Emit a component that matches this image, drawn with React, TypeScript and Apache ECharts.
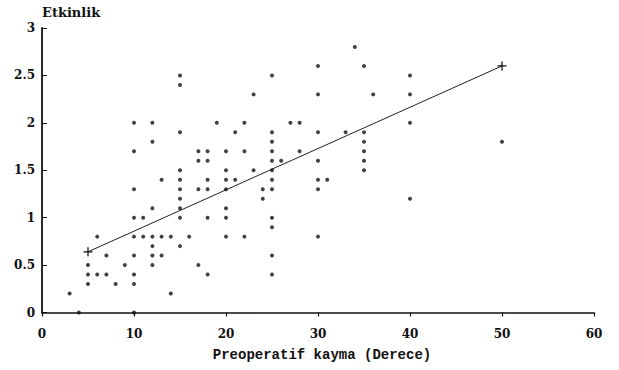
import React, { useEffect, useRef } from "react";
import * as echarts from "echarts";

// Preoperatif kayma (derece) values, grouped by column
const xValues: number[] = [
  3,
  4,
  5, 5, 5,
  6, 6,
  7, 7,
  8,
  9,
  10, 10, 10, 10, 10, 10, 10, 10, 10,
  11, 11,
  12, 12, 12, 12, 12, 12, 12,
  13, 13, 13,
  14, 14,
  15, 15, 15, 15, 15, 15, 15, 15, 15, 15,
  16,
  17, 17, 17, 17,
  18, 18, 18, 18, 18, 18,
  19,
  20, 20, 20, 20, 20, 20, 20,
  21, 21,
  22, 22, 22,
  23, 23,
  24, 24,
  25, 25, 25, 25, 25, 25, 25, 25, 25, 25, 25, 25,
  26,
  27,
  28, 28,
  30, 30, 30, 30, 30, 30, 30,
  31,
  33,
  34,
  35, 35, 35, 35, 35, 35,
  36,
  40, 40, 40, 40,
  50,
];

// Etkinlik values, same order as xValues
const yValues: number[] = [
  0.2,
  0,
  0.5, 0.4, 0.3,
  0.8, 0.4,
  0.6, 0.4,
  0.3,
  0.5,
  2.0, 1.7, 1.3, 1.0, 0.8, 0.6, 0.4, 0.3, 0,
  1.0, 0.8,
  2.0, 1.8, 1.1, 0.8, 0.7, 0.6, 0.5,
  1.4, 0.8, 0.6,
  0.8, 0.2,
  2.5, 2.4, 1.9, 1.5, 1.4, 1.3, 1.2, 1.1, 1.0, 0.7,
  0.8,
  1.7, 1.6, 1.3, 0.5,
  1.7, 1.6, 1.4, 1.3, 1.0, 0.4,
  2.0,
  1.7, 1.5, 1.4, 1.3, 1.1, 1.0, 0.8,
  1.9, 1.4,
  2.0, 1.7, 0.8,
  2.3, 1.5,
  1.3, 1.2,
  2.5, 1.9, 1.8, 1.7, 1.6, 1.5, 1.4, 1.3, 1.0, 0.9, 0.6, 0.4,
  1.6,
  2.0,
  2.0, 1.7,
  2.6, 2.3, 1.9, 1.6, 1.4, 1.3, 0.8,
  1.4,
  1.9,
  2.8,
  2.6, 1.9, 1.8, 1.7, 1.6, 1.5,
  2.3,
  2.5, 2.3, 2.0, 1.2,
  1.8,
];

// Regression line end points
const fitX: number[] = [5, 50];
const fitY: number[] = [0.64, 2.6];

const xTicks = { min: 0, max: 60, interval: 10 };
const yTicks = { min: 0, max: 3, interval: 0.5 };

const PLUS = "path://M4,0h1.4v4.3h4.3v1.4h-4.3v4.3h-1.4v-4.3h-4.3v-1.4h4.3z";

export default function App() {
  const ref = useRef<HTMLDivElement>(null);

  useEffect(() => {
    document.body.style.margin = "0";
    if (!ref.current) return;
    const chart = echarts.init(ref.current, undefined, { renderer: "svg" });
    const points = xValues.map((x, i) => [x, yValues[i]]);
    const fit = fitX.map((x, i) => [x, fitY[i]]);
    const tickFont = "DejaVu Serif";
    chart.setOption({
      animation: false,
      backgroundColor: "#ffffff",
      grid: { left: 42, right: 25, top: 28, bottom: 57.5 },
      xAxis: {
        type: "value",
        min: xTicks.min,
        max: xTicks.max,
        interval: xTicks.interval,
        name: "Preoperatif kayma (Derece)",
        nameLocation: "middle",
        nameGap: 35,
        nameTextStyle: {
          fontFamily: "Liberation Mono",
          fontWeight: "bold",
          fontSize: 14,
          color: "#111",
          padding: [0, 0, 0, 8],
        },
        splitLine: { show: false },
        axisLine: { show: true, lineStyle: { color: "#111", width: 1.5 } },
        axisTick: { show: true, inside: false, length: 4, lineStyle: { color: "#111", width: 1.2 } },
        axisLabel: {
          margin: 15,
          fontFamily: tickFont,
          fontWeight: "bold",
          fontSize: 12,
          color: "#111",
        },
      },
      yAxis: {
        type: "value",
        min: yTicks.min,
        max: yTicks.max,
        interval: yTicks.interval,
        name: "Etkinlik",
        nameLocation: "end",
        nameGap: 9,
        nameTextStyle: {
          fontFamily: "DejaVu Serif",
          fontWeight: "bold",
          fontSize: 13,
          color: "#111",
          align: "left",
        },
        splitLine: { show: false },
        axisLine: { show: true, lineStyle: { color: "#111", width: 1.8 } },
        axisTick: { show: true, inside: true, length: 5, lineStyle: { color: "#111", width: 1 } },
        axisLabel: {
          margin: 7,
          fontFamily: tickFont,
          fontWeight: "bold",
          fontSize: 12,
          color: "#111",
        },
      },
      series: [
        {
          type: "scatter",
          data: points,
          symbol: "circle",
          symbolSize: 4,
          itemStyle: { color: "#111" },
          z: 3,
        },
        {
          type: "line",
          data: fit,
          symbol: PLUS,
          symbolSize: 9,
          showSymbol: true,
          lineStyle: { color: "#222", width: 1 },
          itemStyle: { color: "#111" },
          z: 2,
        },
      ],
    });
    return () => chart.dispose();
  }, []);

  return <div ref={ref} style={{ width: 619, height: 370 }} />;
}
